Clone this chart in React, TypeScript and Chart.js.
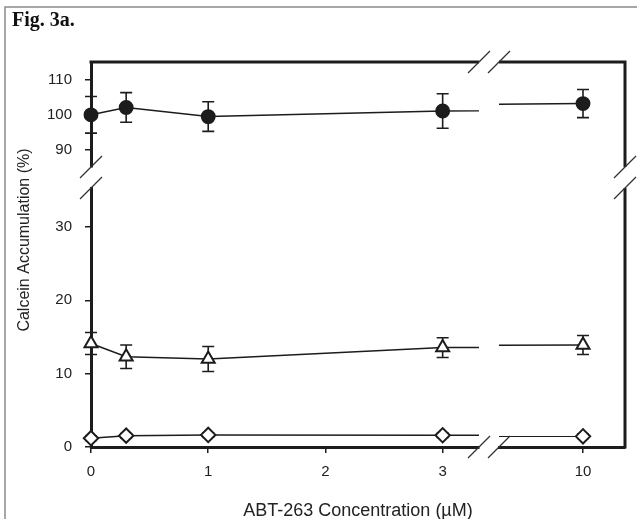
import React, { useEffect, useRef } from 'react';
import { Chart, registerables } from 'chart.js';

Chart.register(...registerables);

// ---- data ----
const concentrations = [0, 0.3, 1, 3, 10];
const circleMean = [100, 102.1, 99.5, 101.1, 103.2];
const circleErr = [5.2, 4.2, 4.2, 4.9, 4.0];
const triangleMean = [14.1, 12.3, 12.0, 13.55, 13.9];
const triangleErr = [1.5, 1.6, 1.7, 1.35, 1.3];
const diamondMean = [1.2, 1.55, 1.65, 1.6, 1.45];
const diamondErr = [0.3, 0.3, 0.3, 0.3, 0.3];

const xTicksLeft = [0, 1, 2, 3];
const xTicksRight = [10];
const yTicksLow = [0, 10, 20, 30];
const yTicksHigh = [90, 100, 110];

const xRangeLeft = [0, 3.31];
const xRangeRight = [9.28, 10.36];
const yRangeLow = [0, 35.3];
const yRangeHigh = [85.2, 115];

const figLabel = 'Fig. 3a.';
const yTitle = 'Calcein Accumulation (%)';
const xTitle = 'ABT-263 Concentration (µM)';

// ---- styles ----
const INK = '#1c1c1c';
const SANS = 'Arial, "Liberation Sans", sans-serif';

const setTicks = (values: number[]) => (scale: any) => {
  scale.ticks = values.map((v) => ({ value: v }));
};
const clearPad = (scale: any) => {
  scale.paddingLeft = 0;
  scale.paddingRight = 0;
  scale.paddingTop = 0;
  scale.paddingBottom = 0;
};
const fixW = (w: number) => (scale: any) => {
  scale.width = w;
  clearPad(scale);
};
const fixH = (h: number) => (scale: any) => {
  scale.height = h;
  clearPad(scale);
};

const axisCommon = (isY: boolean) => ({
  type: 'linear' as const,
  ticks: {
    font: { family: SANS, size: 15 },
    color: '#222',
    padding: isY ? 13 : 10,
    maxRotation: 0,
    autoSkip: false,
    callback: (v: any) => String(v),
  },
  grid: { drawOnChartArea: false, drawTicks: true, tickLength: 6, color: INK, lineWidth: 1.5 },
  border: { display: true, color: INK, width: 3 },
});

const gapAxis = () => ({
  type: 'linear' as const,
  min: 0,
  max: 1,
  ticks: { display: false },
  grid: { display: false },
  border: { display: false },
});

function makeSeries(
  means: number[],
  errs: number[],
  style: string,
  radius: number,
  fillColor: string,
  borderW: number,
  yAxisID: string
) {
  const data = concentrations.map((x, i) => ({ x, y: means[i] }));
  return ['xL', 'xR'].map((xAxisID) => ({
    data,
    errors: errs,
    xAxisID,
    yAxisID,
    borderColor: INK,
    borderWidth: 1.5,
    pointStyle: style,
    pointRadius: radius,
    pointBackgroundColor: fillColor,
    pointBorderColor: INK,
    pointBorderWidth: borderW,
    fill: false,
    tension: 0,
    clip: false,
  }));
}

const slash = (ctx: CanvasRenderingContext2D, cx: number, cy: number) => {
  ctx.beginPath();
  ctx.moveTo(cx - 11, cy + 11);
  ctx.lineTo(cx + 11, cy - 11);
  ctx.stroke();
};

const decorPlugin = {
  id: 'decor',
  beforeDraw(chart: any) {
    const ctx = chart.ctx as CanvasRenderingContext2D;
    ctx.save();
    ctx.strokeStyle = '#8a8a8a';
    ctx.lineWidth = 1.5;
    ctx.beginPath();
    ctx.moveTo(5, chart.height);
    ctx.lineTo(5, 7);
    ctx.lineTo(chart.width, 7);
    ctx.stroke();
    ctx.restore();
  },
  beforeDatasetDraw(chart: any, args: any) {
    const ctx = chart.ctx as CanvasRenderingContext2D;
    const area = chart.chartArea;
    const meta = args.meta;
    const xs = meta.xScale;
    const ys = meta.yScale;
    const left = xs.left <= area.left + 0.5 ? xs.left - 30 : xs.left;
    const right = xs.right >= area.right - 0.5 ? xs.right + 30 : xs.right;
    ctx.save();
    ctx.beginPath();
    ctx.rect(left, ys.top - 30, right - left, ys.bottom - ys.top + 60);
    ctx.clip();
    const ds = chart.data.datasets[args.index];
    const errs: number[] = ds.errors || [];
    ctx.strokeStyle = INK;
    ctx.lineWidth = 1.6;
    ds.data.forEach((p: any, i: number) => {
      const e = errs[i];
      if (!e) return;
      const px = xs.getPixelForValue(p.x);
      const y1 = ys.getPixelForValue(p.y + e);
      const y2 = ys.getPixelForValue(p.y - e);
      ctx.beginPath();
      ctx.moveTo(px, y1);
      ctx.lineTo(px, y2);
      ctx.moveTo(px - 6, y1);
      ctx.lineTo(px + 6, y1);
      ctx.moveTo(px - 6, y2);
      ctx.lineTo(px + 6, y2);
      ctx.stroke();
    });
  },
  afterDatasetDraw(chart: any) {
    chart.ctx.restore();
  },
  afterDraw(chart: any) {
    const ctx = chart.ctx as CanvasRenderingContext2D;
    const s = chart.scales;
    const xL = s.xL, xR = s.xR, yL = s.yL, yH = s.yH;
    ctx.save();
    // frame top & right
    ctx.strokeStyle = INK;
    ctx.lineWidth = 3;
    ctx.beginPath();
    ctx.moveTo(xL.left - 1.5, yH.top);
    ctx.lineTo(xL.right, yH.top);
    ctx.moveTo(xR.left, yH.top);
    ctx.lineTo(xR.right + 1.5, yH.top);
    ctx.moveTo(xR.right, yH.top);
    ctx.lineTo(xR.right, yH.bottom);
    ctx.moveTo(xR.right, yL.top);
    ctx.lineTo(xR.right, yL.bottom + 1.5);
    ctx.stroke();
    // break marks
    ctx.strokeStyle = '#333';
    ctx.lineWidth = 1.2;
    slash(ctx, xL.right, yL.bottom);
    slash(ctx, xR.left, yL.bottom);
    slash(ctx, xL.right, yH.top);
    slash(ctx, xR.left, yH.top);
    slash(ctx, xL.left, yH.bottom);
    slash(ctx, xL.left, yL.top);
    slash(ctx, xR.right, yH.bottom);
    slash(ctx, xR.right, yL.top);
    // texts
    ctx.fillStyle = '#111';
    ctx.font = 'bold 20px "Liberation Serif", "Times New Roman", serif';
    ctx.textAlign = 'left';
    ctx.textBaseline = 'alphabetic';
    ctx.fillText(figLabel, 12, 26);
    ctx.fillStyle = '#222';
    ctx.textAlign = 'center';
    ctx.textBaseline = 'middle';
    const area = chart.chartArea;
    ctx.font = '18px ' + SANS;
    ctx.fillText(xTitle, (area.left + area.right) / 2, 511);
    ctx.font = '16px ' + SANS;
    ctx.translate(25, 240);
    ctx.rotate(-Math.PI / 2);
    ctx.fillText(yTitle, 0, 0);
    ctx.restore();
  },
};

export default function App() {
  const ref = useRef<HTMLCanvasElement | null>(null);
  useEffect(() => {
    if (!ref.current) return;
    const datasets = [
      ...makeSeries(circleMean, circleErr, 'circle', 6.7, INK, 1.5, 'yH'),
      ...makeSeries(triangleMean, triangleErr, 'triangle', 7.5, '#ffffff', 2, 'yL'),
      ...makeSeries(diamondMean, diamondErr, 'rectRot', 7.2, '#ffffff', 2, 'yL'),
    ];
    const chart = new Chart(ref.current, {
      type: 'line',
      data: { datasets } as any,
      options: {
        responsive: false,
        animation: false,
        devicePixelRatio: 1,
        layout: { autoPadding: false, padding: { left: 0, top: 62, right: 12, bottom: 32 } },
        plugins: { legend: { display: false }, tooltip: { enabled: false }, title: { display: false } },
        scales: {
          yL: {
            ...axisCommon(true),
            position: 'left',
            stack: 'y',
            stackWeight: 259,
            weight: 1,
            min: yRangeLow[0],
            max: yRangeLow[1],
            afterBuildTicks: setTicks(yTicksLow),
            afterFit: fixW(91),
          },
          yG: {
            ...gapAxis(),
            position: 'left',
            stack: 'y',
            stackWeight: 21,
            weight: 2,
            afterFit: fixW(91),
          },
          yH: {
            ...axisCommon(true),
            position: 'left',
            stack: 'y',
            stackWeight: 105,
            weight: 3,
            min: yRangeHigh[0],
            max: yRangeHigh[1],
            afterBuildTicks: setTicks(yTicksHigh),
            afterFit: fixW(91),
          },
          xL: {
            ...axisCommon(false),
            position: 'bottom',
            stack: 'x',
            stackWeight: 388,
            weight: 1,
            min: xRangeLeft[0],
            max: xRangeLeft[1],
            afterBuildTicks: setTicks(xTicksLeft),
            afterFit: fixH(40),
          },
          xG: {
            ...gapAxis(),
            position: 'bottom',
            stack: 'x',
            stackWeight: 20,
            weight: 2,
            afterFit: fixH(40),
          },
          xR: {
            ...axisCommon(false),
            position: 'bottom',
            stack: 'x',
            stackWeight: 126,
            weight: 3,
            min: xRangeRight[0],
            max: xRangeRight[1],
            afterBuildTicks: setTicks(xTicksRight),
            afterFit: fixH(40),
          },
        } as any,
      },
      plugins: [decorPlugin as any],
    });
    return () => chart.destroy();
  }, []);
  return (
    <div style={{ position: 'absolute', left: 0, top: 0, width: 637, height: 519, overflow: 'hidden', background: '#fff' }}>
      <canvas ref={ref} width={637} height={519} style={{ display: 'block', width: 637, height: 519 }} />
    </div>
  );
}
